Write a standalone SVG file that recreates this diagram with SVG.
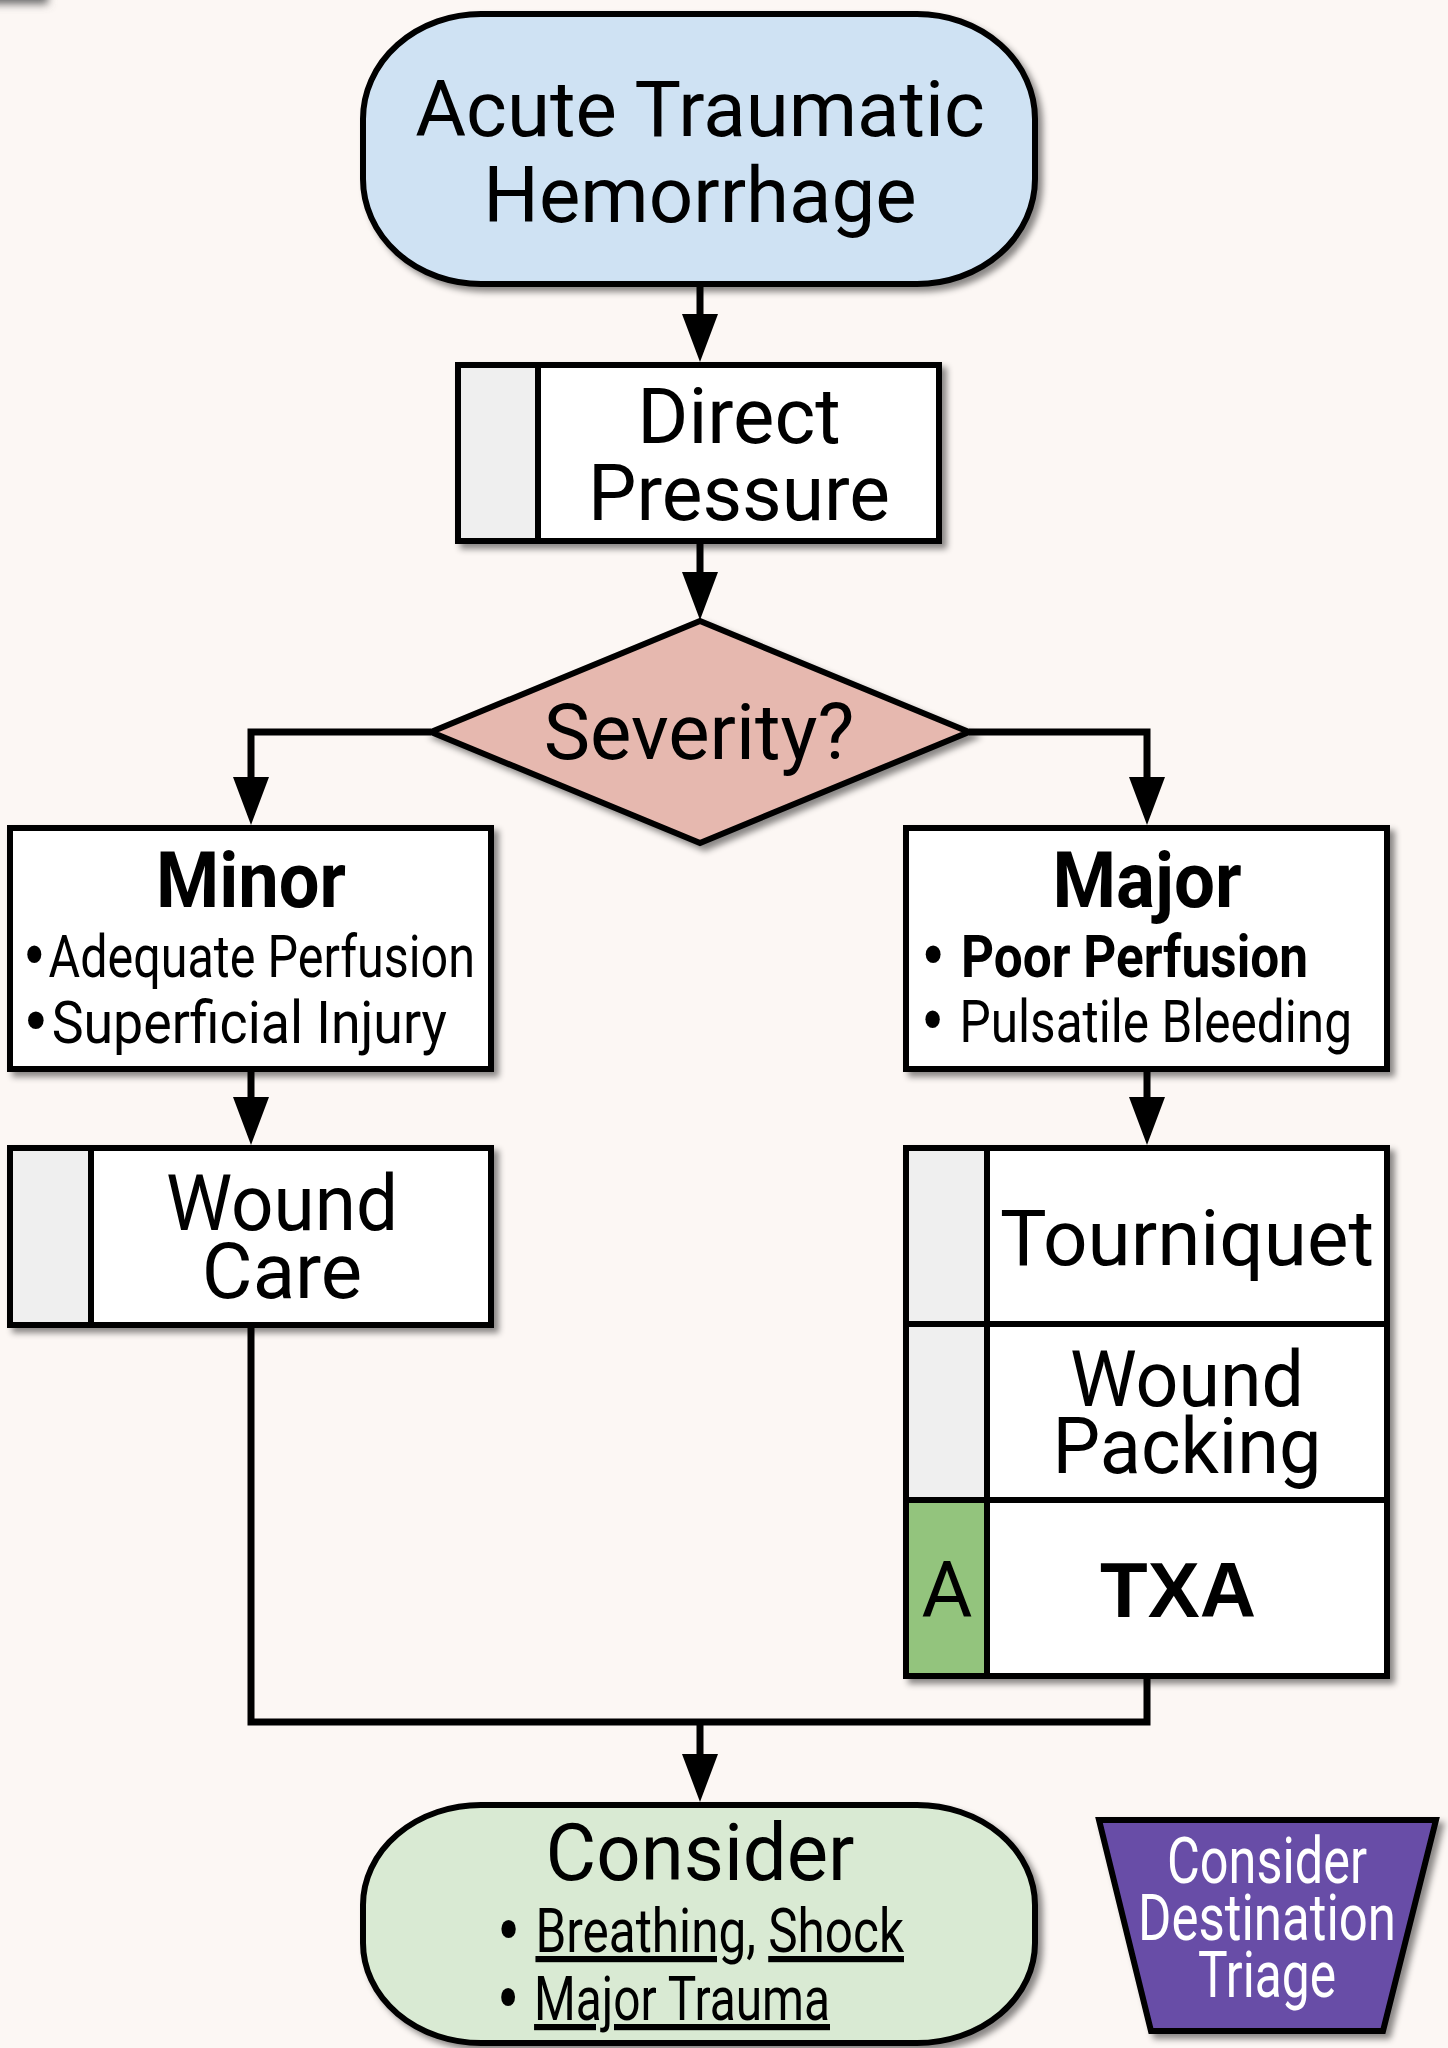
<svg xmlns="http://www.w3.org/2000/svg" width="1448" height="2048" viewBox="0 0 1448 2048">
  <defs>
    <filter id="shadow" x="-10%" y="-10%" width="125%" height="125%">
      <feDropShadow dx="5" dy="5" stdDeviation="3" flood-color="#000" flood-opacity="0.45"/>
    </filter>
    <filter id="haze" x="-50%" y="-50%" width="200%" height="200%">
      <feGaussianBlur stdDeviation="4"/>
    </filter>
    <marker id="arrow" viewBox="0 0 48 36" refX="38" refY="18" markerWidth="48" markerHeight="36" markerUnits="userSpaceOnUse" orient="auto">
      <path d="M0,0 L48,18 L0,36 Z" fill="#000"/>
    </marker>
    <style>
      .box { fill: #ffffff; stroke: #000; stroke-width: 6; stroke-linejoin: miter; }
      .strip { fill: #efefef; stroke: #000; stroke-width: 6; }
      .edge { fill: none; stroke: #000; stroke-width: 7; stroke-linejoin: miter; }
      .lbl { font-family: Roboto, "Liberation Sans", sans-serif; font-size: 78px; fill: #000; text-anchor: middle; }
      .cond { font-family: Roboto, "Liberation Sans", sans-serif; fill: #000; }
      .bold { font-weight: bold; }
      .dot { font-family: "DejaVu Sans", sans-serif; font-weight: normal; }
      .white { fill: #ffffff; }
    </style>
  </defs>

  <!-- page -->
  <rect x="0" y="0" width="1448" height="2048" fill="#fcf7f4"/>
  <rect x="-30" y="-20" width="78" height="24" fill="#6a6a6a" filter="url(#haze)"/>

  <!-- connectors -->
  <g id="connectors">
    <path class="edge" d="M700,286 V352" marker-end="url(#arrow)"/>
    <path class="edge" d="M700,541 V610" marker-end="url(#arrow)"/>
    <path class="edge" d="M431,732 H251 V815" marker-end="url(#arrow)"/>
    <path class="edge" d="M969,732 H1147 V815" marker-end="url(#arrow)"/>
    <path class="edge" d="M251,1069 V1135" marker-end="url(#arrow)"/>
    <path class="edge" d="M1147,1069 V1135" marker-end="url(#arrow)"/>
    <path class="edge" d="M251,1325 V1722 H1147 V1676"/>
    <path class="edge" d="M700,1722 V1792" marker-end="url(#arrow)"/>
  </g>

  <!-- start terminal -->
  <g id="start" filter="url(#shadow)">
    <rect x="363" y="14" width="672" height="270" rx="118" ry="105" fill="#cfe2f3" stroke="#000" stroke-width="6"/>
    <text class="lbl" x="700" y="136">Acute Traumatic</text>
    <text class="lbl" x="700" y="222">Hemorrhage</text>
  </g>

  <!-- direct pressure -->
  <g id="direct-pressure" filter="url(#shadow)">
    <rect class="box" x="458" y="365" width="481" height="176"/>
    <rect class="strip" x="458" y="365" width="80" height="176"/>
    <text class="lbl" x="739" y="443">Direct</text>
    <text class="lbl" x="739" y="520" textLength="302" lengthAdjust="spacingAndGlyphs">Pressure</text>
  </g>

  <!-- severity decision -->
  <g id="severity" filter="url(#shadow)">
    <polygon points="700,621 969,732 700,843 431,732" fill="#e6b8af" stroke="#000" stroke-width="6"/>
    <text class="lbl" x="699" y="759" font-size="80">Severity?</text>
  </g>

  <!-- minor -->
  <g id="minor" filter="url(#shadow)">
    <rect class="box" x="10" y="828" width="481" height="241"/>
    <text class="cond bold" x="251" y="907" font-size="78" text-anchor="middle" textLength="190" lengthAdjust="spacingAndGlyphs">Minor</text>
    <text class="cond" x="20" y="977" font-size="60" textLength="455" lengthAdjust="spacingAndGlyphs"><tspan class="dot">•</tspan>Adequate Perfusion</text>
    <text class="cond" x="20" y="1043" font-size="60" textLength="427" lengthAdjust="spacingAndGlyphs"><tspan class="dot">•</tspan>Superficial Injury</text>
  </g>

  <!-- major -->
  <g id="major" filter="url(#shadow)">
    <rect class="box" x="906" y="828" width="481" height="241"/>
    <text class="cond bold" x="1147" y="907" font-size="78" text-anchor="middle" textLength="189" lengthAdjust="spacingAndGlyphs">Major</text>
    <text class="cond bold" x="918" y="977" font-size="60" textLength="390" lengthAdjust="spacingAndGlyphs"><tspan class="dot">•</tspan> Poor Perfusion</text>
    <text class="cond" x="918" y="1042" font-size="60" textLength="434" lengthAdjust="spacingAndGlyphs"><tspan class="dot">•</tspan> Pulsatile Bleeding</text>
  </g>

  <!-- wound care -->
  <g id="wound-care" filter="url(#shadow)">
    <rect class="box" x="10" y="1148" width="481" height="177"/>
    <rect class="strip" x="10" y="1148" width="81" height="177"/>
    <text class="lbl" x="282" y="1230" textLength="232" lengthAdjust="spacingAndGlyphs">Wound</text>
    <text class="lbl" x="282" y="1298">Care</text>
  </g>

  <!-- major treatment stack -->
  <g id="major-treatment" filter="url(#shadow)">
    <rect class="box" x="906" y="1148" width="481" height="528"/>
    <rect class="strip" x="906" y="1148" width="81" height="176"/>
    <rect class="strip" x="906" y="1324" width="81" height="176"/>
    <rect x="906" y="1500" width="81" height="176" fill="#93c47d" stroke="#000" stroke-width="6"/>
    <line x1="906" y1="1324" x2="1387" y2="1324" stroke="#000" stroke-width="6"/>
    <line x1="906" y1="1500" x2="1387" y2="1500" stroke="#000" stroke-width="6"/>
    <text class="lbl" x="1187" y="1265" textLength="374" lengthAdjust="spacingAndGlyphs">Tourniquet</text>
    <text class="lbl" x="1187" y="1406" textLength="234" lengthAdjust="spacingAndGlyphs">Wound</text>
    <text class="lbl" x="1187" y="1473" textLength="269" lengthAdjust="spacingAndGlyphs">Packing</text>
    <text x="1178" y="1617" font-family="'Liberation Sans', Arial, sans-serif" font-weight="bold" font-size="78" text-anchor="middle">TXA</text>
    <text class="lbl" x="947" y="1617" font-size="72">A</text>
  </g>

  <!-- consider terminal -->
  <g id="consider" filter="url(#shadow)">
    <rect x="363" y="1805" width="672" height="238" rx="118" ry="100" fill="#d9ead3" stroke="#000" stroke-width="6"/>
    <text class="cond" x="700" y="1880" font-size="80" text-anchor="middle" textLength="309" lengthAdjust="spacingAndGlyphs">Consider</text>
    <text class="cond" x="494" y="1952" font-size="62" textLength="410" lengthAdjust="spacingAndGlyphs"><tspan class="dot">•</tspan> <tspan text-decoration="underline">Breathing</tspan>, <tspan text-decoration="underline">Shock</tspan></text>
    <text class="cond" x="494" y="2020" font-size="62" textLength="336" lengthAdjust="spacingAndGlyphs"><tspan class="dot">•</tspan> <tspan text-decoration="underline">Major Trauma</tspan></text>
  </g>

  <!-- destination triage -->
  <g id="destination-triage" filter="url(#shadow)">
    <polygon points="1099,1820 1436,1820 1383,2031 1151,2031" fill="#674ea7" stroke="#000" stroke-width="6"/>
    <text class="cond white" x="1267" y="1883" font-size="64" text-anchor="middle" textLength="200" lengthAdjust="spacingAndGlyphs">Consider</text>
    <text class="cond white" x="1267" y="1940" font-size="64" text-anchor="middle" textLength="258" lengthAdjust="spacingAndGlyphs">Destination</text>
    <text class="cond white" x="1267" y="1997" font-size="64" text-anchor="middle" textLength="138" lengthAdjust="spacingAndGlyphs">Triage</text>
  </g>
</svg>
